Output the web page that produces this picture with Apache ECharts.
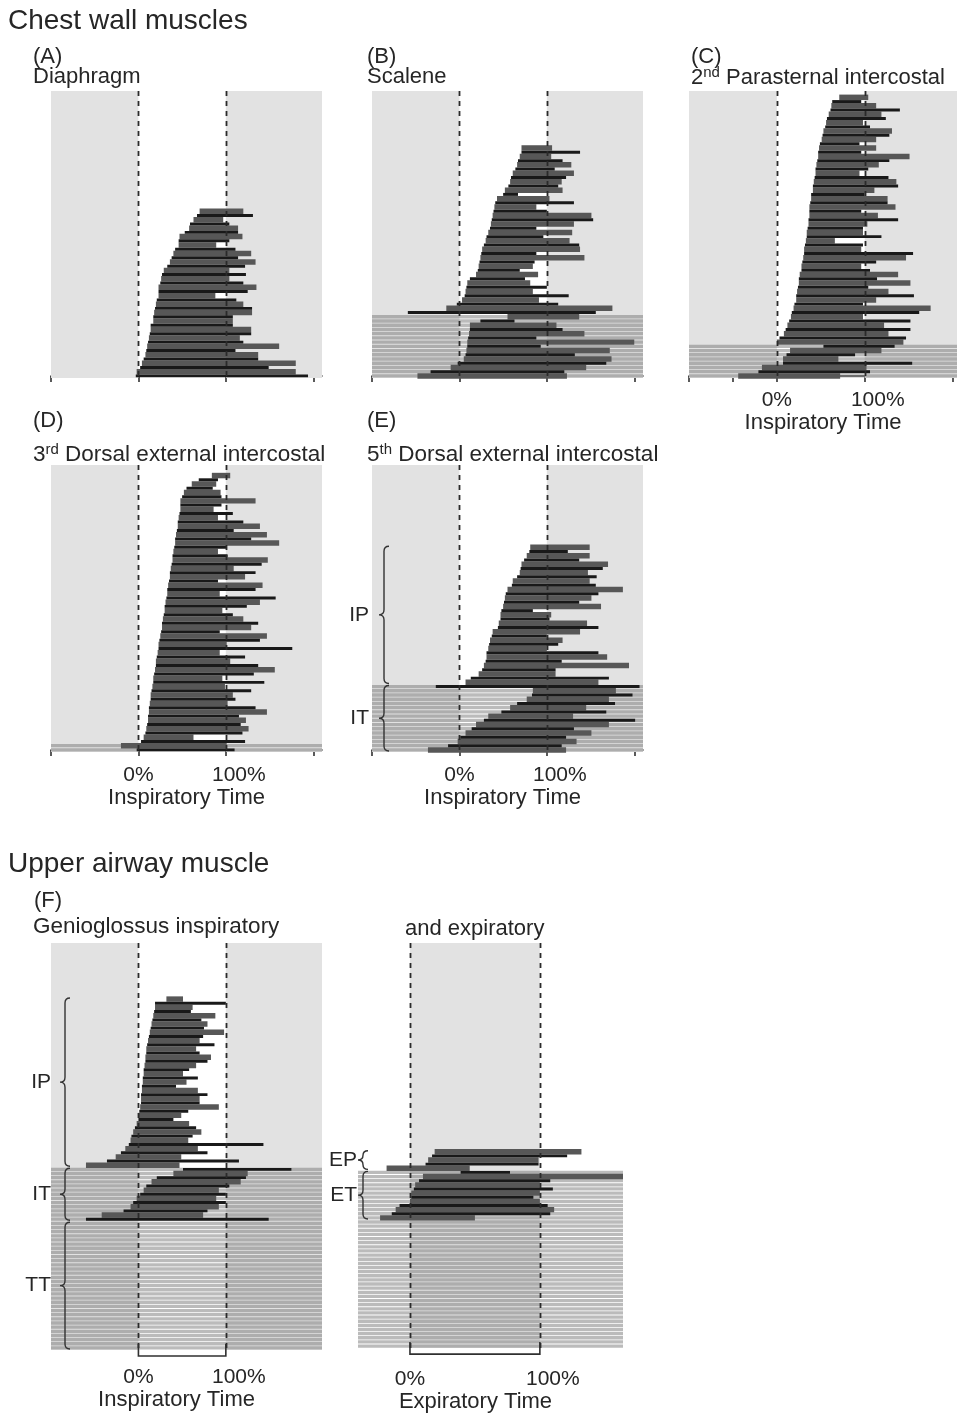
<!DOCTYPE html>
<html><head><meta charset="utf-8">
<script src="https://cdn.jsdelivr.net/npm/echarts@6/dist/echarts.min.js"></script>
<style>html,body{margin:0;padding:0;background:#fff}#c{width:957px;height:1414px}</style>
</head><body><div id="c"></div>
<script>
// ===== DATA (per neuron row, listed top to bottom; % of inspiratory / expiratory time) =====
const aStart = [70,67,63,59,58,53,47,46,46,42,40,38,36,33,29,27,26,25,23,23,23,21,20,19,18,17,17,14,14,13,12,11,10,9,8,6,4,2,-2,-3];
const aEnd   = [120,131,97,104,114,114,119,104,89,111,129,114,134,122,104,123,104,120,135,125,88,112,120,130,130,108,108,108,129,129,116,120,161,111,137,137,180,149,180,194];
const aTonic = 0;

const bStart = [71,71,69,67,66,64,61,59,58,56,52,50,43,41,40,39,38,37,36,35,33,31,30,28,26,25,24,23,22,21,19,12,9,8,7,6,3,-3,-15,-59,
                55,24,12,12,11,10,9,9,8,7,5,-2,-10,-33,-48];
const bEnd   = [106,138,105,118,128,109,131,122,117,113,118,67,103,131,88,100,151,153,131,88,129,96,126,137,138,88,143,86,84,69,90,75,81,100,84,125,91,113,175,156,
                137,63,111,118,143,88,200,93,172,132,174,168,145,120,123];
const bTonic = 15;

const cStart = [71,63,62,61,59,57,56,55,53,52,51,49,48,47,47,46,45,44,44,43,42,41,41,39,39,38,37,37,37,36,
                36,35,34,34,33,32,31,31,30,29,28,28,26,25,25,24,23,22,22,20,19,17,16,14,12,10,8,3,0,
                53,15,11,7,7,-17,-21,-44];
const cEnd   = [104,96,113,140,119,124,98,106,131,128,113,94,113,96,151,128,116,104,94,127,136,138,111,100,126,126,135,96,115,138,
                103,98,98,119,66,98,96,155,147,113,96,106,138,114,152,104,127,156,113,98,175,162,98,152,122,152,127,147,144,
                134,119,89,70,154,102,106,72];
const cTonic = 8;

const dStart = [84,69,61,55,52,50,48,48,48,47,46,45,45,44,43,42,42,41,40,39,39,38,37,36,36,35,34,33,33,32,
                31,30,30,29,28,27,27,26,25,24,23,23,22,21,20,20,19,18,17,17,16,15,14,14,13,12,12,11,11,10,
                9,8,6,3,-20,-2];
const dEnd   = [105,91,89,85,94,95,134,95,86,108,91,120,139,109,147,129,161,101,91,102,148,141,109,134,122,91,142,134,93,157,
                139,124,96,108,120,137,129,93,147,139,101,176,93,122,105,137,156,132,96,144,99,129,108,111,102,134,147,115,123,117,
                126,119,63,122,101,110];
const dTonic = 2;

const eStart = [81,80,77,74,71,70,69,66,61,60,55,53,52,51,50,48,47,47,45,44,38,37,35,34,33,31,31,30,28,26,22,13,7,
                -27,84,83,77,66,58,48,33,28,19,14,7,1,-2,-13,-36];
const eEnd   = [149,124,149,137,170,164,147,157,149,156,187,159,151,137,162,84,105,103,146,159,138,100,118,113,100,159,169,117,194,110,110,171,159,
                206,179,198,171,178,145,168,130,201,171,131,151,122,134,117,122];
const eTonic = 16;
const eGroups = ['IP', 'IT'];
const eGroupRows = [33, 16];

const fiStart = [32,19,19,18,17,16,15,14,13,12,11,10,9,9,8,8,7,6,6,5,5,4,4,3,3,3,2,1,0,0,-2,-4,-6,-8,-9,-11,-15,-20,-26,-36,-60,
                 51,40,21,15,9,6,2,-2,-6,-9,-17,-42,-60];
const fiEnd   = [51,100,62,60,88,72,79,75,98,74,70,87,66,70,83,79,66,58,51,68,55,43,68,79,70,70,92,57,49,40,58,66,72,62,57,143,68,79,49,115,47,
                 175,125,123,117,104,92,100,89,100,92,79,74,149];
const fiTonic = 13;
const fiTonicOnly = 31;
const fiGroups = ['IP', 'IT', 'TT'];
const fiGroupRows = [41, 13, 31];

const feStart = [19,17,14,12,-18, 39,10,7,4,3,1,1,0,-8,-11,-14,-23];
const feEnd   = [132,121,99,99,46, 77,164,108,100,110,100,95,100,106,111,108,50];
const feTonic = 12;
const feTonicOnly = 31;
const feGroups = ['EP', 'ET'];
const feGroupRows = [5, 12];

const phaseBoundaries = [0, 100];
const inspShade = [[-300, 0], [100, 400]];
const expShade = [[0, 100]];
const tickLabels = [0, 100];

// ===== STYLE / LAYOUT =====
const FONT = '"Liberation Sans", Arial, Helvetica, sans-serif';
const TXT = '#262626';
const panels = [
  {start:aStart, end:aEnd, tonic:aTonic, tonicOnly:0, grid:{left:51, top:91, width:271, height:287}, x:[-100,210], y:[-0.5,67.5],
   shade:inspShade, axisLine:true, ticks:[-100,0,100,200], labels:false},
  {start:bStart, end:bEnd, tonic:bTonic, tonicOnly:0, grid:{left:372, top:91, width:271, height:287}, x:[-100,210], y:[-0.5,67.5],
   shade:inspShade, axisLine:true, ticks:[-100,0,100,200], labels:false},
  {start:cStart, end:cEnd, tonic:cTonic, tonicOnly:0, grid:{left:689, top:91, width:268, height:287}, x:[-100,205], y:[-0.5,67.5],
   shade:inspShade, axisLine:true, ticks:[-100,-50,0,100,200], labels:true, margin:12, name:'Inspiratory Time', nameGap:32, namePad:[0,0,0,0]},
  {start:dStart, end:dEnd, tonic:dTonic, tonicOnly:0, grid:{left:51, top:465, width:271, height:287}, x:[-100,210], y:[-0.5,67.5],
   shade:inspShade, axisLine:true, ticks:[-100,0,100,200], labels:true, margin:13, name:'Inspiratory Time', nameGap:34, namePad:[0,0,0,0]},
  {start:eStart, end:eEnd, tonic:eTonic, tonicOnly:0, grid:{left:372, top:465, width:271, height:287}, x:[-100,210], y:[-0.5,67.5],
   shade:inspShade, axisLine:true, ticks:[-100,0,100,200], labels:true, margin:13, name:'Inspiratory Time', nameGap:34, namePad:[0,10,0,0],
   groups:eGroups, groupRows:eGroupRows, braceOffset:12, braceGap:10},
  {start:fiStart, end:fiEnd, tonic:fiTonic, tonicOnly:fiTonicOnly, grid:{left:51, top:943, width:271, height:407}, x:[-100,210], y:[-0.5,97.5],
   shade:inspShade, axisLine:false, ticks:null, labels:true, margin:17, name:'Inspiratory Time', nameGap:37, namePad:[0,20,0,0], bracket:true,
   groups:fiGroups, groupRows:fiGroupRows, braceOffset:14, braceGap:9},
  {start:feStart, end:feEnd, tonic:feTonic, tonicOnly:feTonicOnly, grid:{left:358, top:943, width:265, height:407}, x:[-40,164], y:[-0.5,97.5],
   shade:expShade, axisLine:false, ticks:null, labels:true, margin:21, name:'Expiratory Time', nameGap:41, namePad:[0,30,0,0], bracket:true,
   groups:feGroups, groupRows:feGroupRows, braceOffset:5, braceGap:1}
];

const titleDefs = [
  ['Chest wall muscles', 8, 6, 28],
  ['(A)', 33, 44, 22], ['Diaphragm', 33, 64, 22],
  ['(B)', 367, 44, 22], ['Scalene', 367, 64, 22],
  ['(C)', 691, 44, 22], ['2{sup|nd} Parasternal intercostal', 691, 65, 22],
  ['(D)', 33, 408, 22], ['3{sup|rd} Dorsal external intercostal', 33, 442, 22.5],
  ['(E)', 367, 408, 22], ['5{sup|th} Dorsal external intercostal', 367, 442, 22.5],
  ['Upper airway muscle', 8, 849, 28],
  ['(F)', 34, 888, 22], ['Genioglossus inspiratory', 33, 914, 22.5],
  ['and expiratory', 405, 916, 22]
];
const titles = titleDefs.map(t => ({
  text: t[0], left: t[1], top: t[2], padding: 0,
  textStyle: {fontFamily: FONT, fontSize: t[3], fontWeight: 'normal', color: TXT, lineHeight: t[3] + 3,
    rich: {sup: {fontFamily: FONT, fontSize: 15, color: TXT, verticalAlign: 'top', lineHeight: 15}}}
}));

// ===== RENDERERS =====
function shadeRender(params, api) {
  const cs = params.coordSys;
  let x0 = api.coord([api.value(0), 0])[0], x1 = api.coord([api.value(1), 0])[0];
  x0 = Math.max(x0, cs.x); x1 = Math.min(x1, cs.x + cs.width);
  return {type: 'rect', shape: {x: x0, y: cs.y, width: Math.max(0, x1 - x0), height: cs.height}, style: {fill: '#e2e2e2'}};
}
function tonicRender(params, api) {
  const cs = params.coordSys;
  const cy = api.coord([0, api.value(0)])[1];
  const pitch = api.size([0, 1])[1];
  return {type: 'rect', shape: {x: cs.x, y: cy - pitch * 0.4, width: cs.width, height: pitch * 0.8},
    style: {fill: 'rgba(120,120,120,0.5)'}};
}
function makeBarRender(thick, color) {
  return function (params, api) {
    const cs = params.coordSys;
    const y = api.value(0);
    const p0 = api.coord([api.value(1), y]), p1 = api.coord([api.value(2), y]);
    const h = api.size([0, 1])[1] * thick;
    const x0 = Math.max(p0[0], cs.x), x1 = Math.min(p1[0], cs.x + cs.width);
    return {type: 'rect', shape: {x: x0, y: p0[1] - h / 2, width: Math.max(0, x1 - x0), height: h}, style: {fill: color}};
  };
}
function dashRender(params, api) {
  const cs = params.coordSys;
  const x = Math.round(api.coord([api.value(0), 0])[0]) + 0.5;
  return {type: 'line', shape: {x1: x, y1: cs.y, x2: x, y2: cs.y + cs.height},
    style: {stroke: '#2a2a2a', lineWidth: 1.8, lineDash: [5, 5]}};
}
function bracketRender(params, api) {
  const cs = params.coordSys;
  const x0 = api.coord([api.value(0), 0])[0], x1 = api.coord([api.value(1), 0])[0];
  const yb = cs.y + cs.height + 6;
  return {type: 'polyline', shape: {points: [[x0, yb - 12], [x0, yb], [x1, yb], [x1, yb - 12]]},
    style: {stroke: '#303030', lineWidth: 1.6, fill: 'none'}};
}
function makeBraceRender(labels, offset, gap) {
  return function (params, api) {
    const cs = params.coordSys;
    const yt = api.coord([0, api.value(0) + 0.5])[1] + 1;
    const yb = api.coord([0, api.value(1) - 0.5])[1] - 1;
    const x = cs.x + offset, ym = (yt + yb) / 2, w = 5;
    const r = Math.min(5, (yb - yt) / 4);
    const d = 'M' + (x + w) + ',' + yt + ' Q' + x + ',' + yt + ' ' + x + ',' + (yt + r) +
      ' L' + x + ',' + (ym - r) + ' Q' + x + ',' + ym + ' ' + (x - w) + ',' + ym +
      ' Q' + x + ',' + ym + ' ' + x + ',' + (ym + r) + ' L' + x + ',' + (yb - r) +
      ' Q' + x + ',' + yb + ' ' + (x + w) + ',' + yb;
    return {type: 'group', children: [
      {type: 'path', shape: {pathData: d}, style: {stroke: '#333', fill: 'none', lineWidth: 1.4}},
      {type: 'text', x: x - w - gap, y: ym, style: {text: labels[params.dataIndex], fill: TXT, fontSize: 21,
        fontFamily: FONT, align: 'right', verticalAlign: 'middle'}}
    ]};
  };
}

// ===== BUILD OPTION =====
const grids = [], xAxes = [], yAxes = [], series = [];
panels.forEach((p, i) => {
  grids.push(Object.assign({containLabel: false}, p.grid));
  xAxes.push({
    gridIndex: i, type: 'value', min: p.x[0], max: p.x[1],
    axisLine: {show: p.axisLine, lineStyle: {color: '#303030', width: 1.6}},
    axisTick: p.ticks ? {show: true, customValues: p.ticks, length: 6, inside: false, lineStyle: {color: '#303030', width: 1.6}} : {show: false},
    axisLabel: p.labels ? {show: true, customValues: tickLabels, margin: p.margin, fontFamily: FONT, fontSize: 21, color: TXT,
      formatter: v => v === 100 ? '{p|' + v + '%}' : v + '%',
      rich: {p: {fontFamily: FONT, fontSize: 21, color: TXT, padding: [0, 0, 0, 26]}}} : {show: false},
    splitLine: {show: false},
    name: p.name || '', nameLocation: 'middle', nameGap: p.nameGap || 0,
    nameTextStyle: {fontFamily: FONT, fontSize: 22, color: TXT, padding: p.namePad || 0}
  });
  yAxes.push({gridIndex: i, type: 'value', min: p.y[0], max: p.y[1], show: false});

  const n = p.start.length;
  const total = n + p.tonicOnly;
  const greyData = [], blackData = [], tonicData = [];
  for (let k = 0; k < n; k++) {
    const y = total - 1 - k;
    (k % 2 ? blackData : greyData).push([y, p.start[k], p.end[k]]);
    if (k >= n - p.tonic) tonicData.push([y]);
  }
  for (let k = 0; k < p.tonicOnly; k++) tonicData.push([p.tonicOnly - 1 - k]);

  const ax = {xAxisIndex: i, yAxisIndex: i};
  series.push(Object.assign({type: 'custom', z: 1, silent: true, renderItem: shadeRender, data: p.shade}, ax));
  series.push(Object.assign({type: 'custom', z: 2, silent: true, renderItem: tonicRender, data: tonicData}, ax));
  series.push(Object.assign({type: 'custom', z: 3, silent: true, renderItem: makeBarRender(1.3, '#575757'), data: greyData}, ax));
  series.push(Object.assign({type: 'custom', z: 4, silent: true, renderItem: makeBarRender(0.7, '#191919'), data: blackData}, ax));
  series.push(Object.assign({type: 'custom', z: 5, silent: true, renderItem: dashRender, data: phaseBoundaries.map(v => [v])}, ax));
  if (p.bracket) {
    series.push(Object.assign({type: 'custom', z: 5, silent: true, clip: false, renderItem: bracketRender, data: [phaseBoundaries]}, ax));
  }
  if (p.groups) {
    const bd = [];
    let top = total - 1;
    p.groupRows.forEach(cnt => { bd.push([top, top - cnt + 1]); top -= cnt; });
    series.push(Object.assign({type: 'custom', z: 6, silent: true, clip: false,
      renderItem: makeBraceRender(p.groups, p.braceOffset, p.braceGap), data: bd}, ax));
  }
});

const chart = echarts.init(document.getElementById('c'), null, {renderer: 'canvas', width: 957, height: 1414});
chart.setOption({
  animation: false,
  backgroundColor: '#ffffff',
  title: titles,
  grid: grids, xAxis: xAxes, yAxis: yAxes, series: series
});
</script>
</body></html>
